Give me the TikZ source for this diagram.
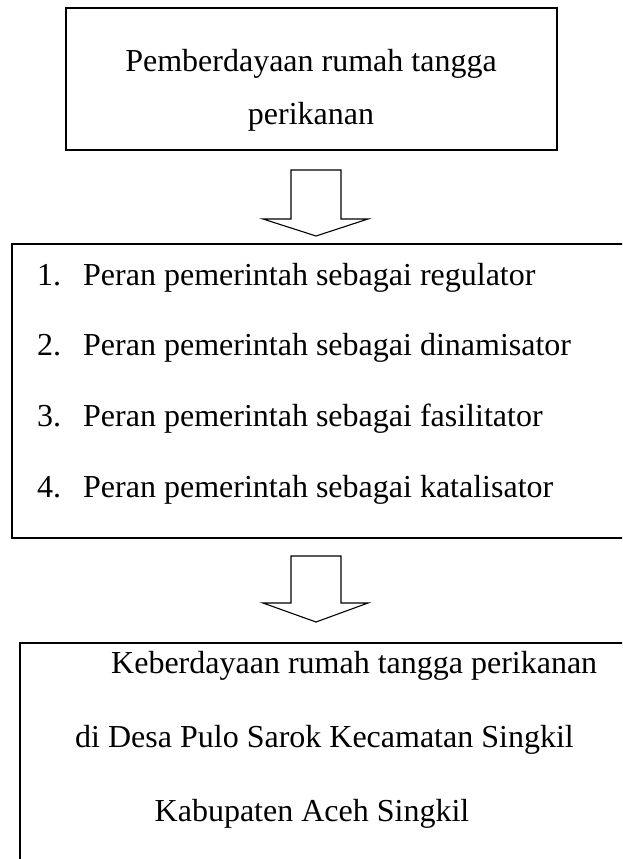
\documentclass[tikz,border=0pt]{standalone}
\usepackage{fontspec}
\setmainfont{Liberation Serif}
\usepackage{tikz}

\tikzset{
  box/.style={draw, line width=1.8pt, inner sep=0pt},
  txt/.style={inner sep=0pt, font=\fontsize{32}{38}\selectfont},
  blockarr/.style={draw, line width=1.1pt, line join=miter}
}

\begin{document}
\begin{tikzpicture}[x=1pt,y=-1pt]
\clip (0,0) rectangle (622,859);
% kotak
\node[box, minimum width=491pt, minimum height=142pt] (pemb) at (311.5,79) {};
\node[box, minimum width=640pt, minimum height=294pt] (peran) at (332,391) {};
\node[box, minimum width=660pt, minimum height=300pt] (keb) at (350,793) {};
% teks
\node[txt, anchor=base] (pemb1) at (311,71) {Pemberdayaan rumah tangga};
\node[txt, anchor=base] (pemb2) at (311,124) {perikanan};
\node[txt, anchor=base west] (no1) at (37,285) {1.};
\node[txt, anchor=base west] (peran1) at (83,285) {Peran pemerintah sebagai regulator};
\node[txt, anchor=base west] (no2) at (37,355.7) {2.};
\node[txt, anchor=base west] (peran2) at (83,355.7) {Peran pemerintah sebagai dinamisator};
\node[txt, anchor=base west] (no3) at (37,426.3) {3.};
\node[txt, anchor=base west] (peran3) at (83,426.3) {Peran pemerintah sebagai fasilitator};
\node[txt, anchor=base west] (no4) at (37,497) {4.};
\node[txt, anchor=base west] (peran4) at (83,497) {Peran pemerintah sebagai katalisator};
\node[txt, anchor=base west] (keb1) at (111,673) {Keberdayaan rumah tangga perikanan};
\node[txt, anchor=base west] (keb2) at (75,747) {di Desa Pulo Sarok Kecamatan Singkil};
\node[txt, anchor=base] (keb3) at (312,821) {Kabupaten Aceh Singkil};
% panah
\draw[blockarr] (291,170) -- (341,170) -- (341,219) -- (368,219) -- (316,236)
  -- (263,219) -- (291,219) -- cycle;
\draw[blockarr] (291,556) -- (341,556) -- (341,603) -- (368,603) -- (316,622)
  -- (263,603) -- (291,603) -- cycle;
\end{tikzpicture}
\end{document}
